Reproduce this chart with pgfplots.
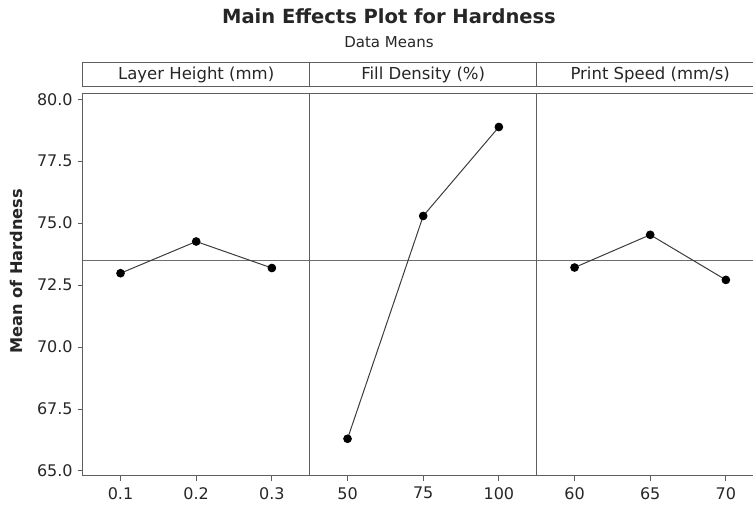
\documentclass[border=0pt]{standalone}
\usepackage{fontspec}
\setmainfont{DejaVu Sans}
\usepackage{pgfplots}
\pgfplotsset{compat=1.18}
\definecolor{frame}{HTML}{5E5E5E}
\definecolor{dline}{HTML}{3C3C3C}
\definecolor{refl}{HTML}{6E6E6E}
\definecolor{txt}{HTML}{262626}
\begin{document}
\begin{tikzpicture}
\pgfplotsset{
  panel/.style={
    width=227pt, height=382.4pt, scale only axis,
    anchor=south west,
    ymin=64.81, ymax=80.24, xmin=-0.5, xmax=2.5,
    xtick={0,1,2}, xtick pos=bottom, tick align=outside,
    major tick length=5pt,
    axis line style={frame, line width=1.2pt},
    tick style={frame, line width=1pt},
    /pgf/number format/assume math mode=true,
    tick label style={font=\fontsize{16}{18}\selectfont, text=txt},
    xticklabel style={yshift=-3pt},
    yticklabel style={xshift=-1.5pt},
    title style={at={(axis description cs:0.5,1)}, anchor=south, draw=frame, line width=1.2pt,
      minimum width=227pt, minimum height=24pt, inner sep=0pt, text=txt,
      font=\fontsize{16.5}{18}\selectfont},
    clip=false,
  },
  dat/.style={dline, line width=1pt, mark=*, mark size=3.8pt, mark options={fill=black, draw=black}},
  ref/.style={refl, line width=1pt},
}
% Left panel
\begin{axis}[panel, at={(82.7pt,29.3pt)},
  ytick={65,67.5,70,72.5,75,77.5,80},
  yticklabel style={/pgf/number format/.cd, fixed, fixed zerofill, precision=1},
  ytick pos=left,
  xticklabels={0.1,0.2,0.3},
  title={Layer Height (mm)},
  ylabel={Mean of Hardness},
  ylabel style={at={(axis description cs:-0.292,0.534)}, anchor=center,
    font=\fontsize{16.2}{18}\selectfont\bfseries, text=txt},
]
\addplot[ref] coordinates {(-0.5,73.49) (2.5,73.49)};
\addplot[dat] coordinates {(0,72.98) (1,74.26) (2,73.19)};
\end{axis}
% Middle panel
\begin{axis}[panel, at={(309.7pt,29.3pt)},
  ytick=\empty,
  xticklabels={50,75,100},
  title={Fill Density (\%)},
]
\addplot[ref] coordinates {(-0.5,73.49) (2.5,73.49)};
\addplot[dat] coordinates {(0,66.30) (1,75.29) (2,78.88)};
\end{axis}
% Right panel
\begin{axis}[panel, at={(536.7pt,29.3pt)},
  ytick=\empty,
  xticklabels={60,65,70},
  title={Print Speed (mm/s)},
]
\addplot[ref] coordinates {(-0.5,73.49) (2.5,73.49)};
\addplot[dat] coordinates {(0,73.21) (1,74.53) (2,72.71)};
\end{axis}
\node[text=txt, font=\fontsize{19.5}{22}\selectfont\bfseries] at (389pt,488.5pt) {Main Effects Plot for Hardness};
\node[text=txt, font=\fontsize{15}{17}\selectfont] at (389pt,463.3pt) {Data Means};
\pgfresetboundingbox
\path[use as bounding box] (0pt,0pt) rectangle (753pt,505pt);
\end{tikzpicture}
\end{document}
